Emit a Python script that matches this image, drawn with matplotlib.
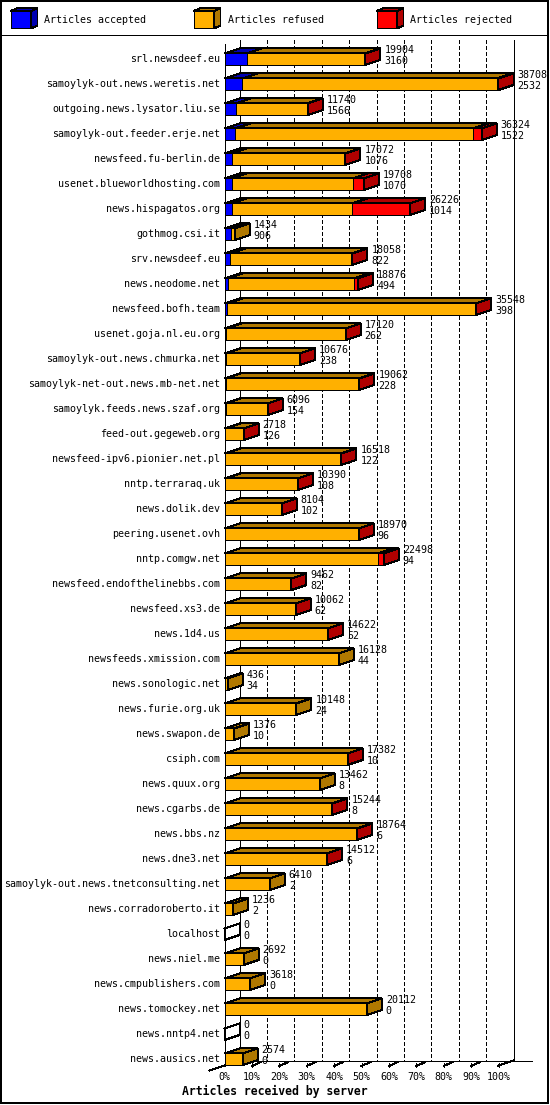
import matplotlib
matplotlib.use("Agg")
import matplotlib.pyplot as plt
from matplotlib.patches import Polygon, Rectangle
from matplotlib.transforms import blended_transform_factory

# ---- data: articles received by server ----
servers = [
    "srl.newsdeef.eu", "samoylyk-out.news.weretis.net", "outgoing.news.lysator.liu.se",
    "samoylyk-out.feeder.erje.net", "newsfeed.fu-berlin.de", "usenet.blueworldhosting.com",
    "news.hispagatos.org", "gothmog.csi.it", "srv.newsdeef.eu", "news.neodome.net",
    "newsfeed.bofh.team", "usenet.goja.nl.eu.org", "samoylyk-out.news.chmurka.net",
    "samoylyk-net-out.news.mb-net.net", "samoylyk.feeds.news.szaf.org", "feed-out.gegeweb.org",
    "newsfeed-ipv6.pionier.net.pl", "nntp.terraraq.uk", "news.dolik.dev", "peering.usenet.ovh",
    "nntp.comgw.net", "newsfeed.endofthelinebbs.com", "newsfeed.xs3.de", "news.1d4.us",
    "newsfeeds.xmission.com", "news.sonologic.net", "news.furie.org.uk", "news.swapon.de",
    "csiph.com", "news.quux.org", "news.cgarbs.de", "news.bbs.nz", "news.dne3.net",
    "samoylyk-out.news.tnetconsulting.net", "news.corradoroberto.it", "localhost",
    "news.niel.me", "news.cmpublishers.com", "news.tomockey.net", "news.nntp4.net",
    "news.ausics.net",
]
total = [19904, 38708, 11740, 36324, 17072, 19708, 26226, 1434, 18058, 18876,
         35548, 17120, 10676, 19062, 6096, 2718, 16518, 10390, 8104, 18970,
         22498, 9462, 10062, 14622, 16128, 436, 10148, 1376, 17382, 13462,
         15244, 18764, 14512, 6410, 1236, 0, 2692, 3618, 20112, 0, 2574]
accepted = [3160, 2532, 1566, 1522, 1076, 1070, 1014, 906, 822, 494,
            398, 262, 238, 228, 154, 126, 122, 108, 102, 96,
            94, 82, 62, 52, 44, 34, 24, 10, 10, 8,
            8, 6, 6, 2, 2, 0, 0, 0, 0, 0, 0]
# estimated from the red segment widths
rejected = [40, 250, 80, 1180, 40, 1580, 8170, 0, 40, 610,
            30, 40, 20, 20, 10, 10, 20, 10, 10, 20,
            840, 10, 10, 20, 0, 0, 0, 0, 10, 0,
            10, 10, 10, 0, 0, 0, 0, 0, 0, 0, 0]
refused = [t - a - r for t, a, r in zip(total, accepted, rejected)]

legend_labels = ["Articles accepted", "Articles refused", "Articles rejected"]
colors = ["#0000ff", "#ffb000", "#ff0000"]
dark_colors = ["#0000b0", "#b07800", "#b00000"]
pct_ticks = list(range(0, 101, 10))

plt.rcParams['font.family'] = ['DejaVu Sans Mono']
plt.rcParams['patch.antialiased'] = False
plt.rcParams['lines.antialiased'] = False

W, H = 550, 1105
fig = plt.figure(figsize=(W / 100, H / 100), dpi=100)
fig.patch.set_facecolor('white')

# pixel overlay for frame / legend
bg = fig.add_axes([0, 0, 1, 1])
bg.set_xlim(0, W)
bg.set_ylim(H, 0)
bg.axis('off')

n = len(servers)
vmax = max(total)
x0_px, x1_px = 224.5, 498.5
row0_px, row_px = 59.2, 25.0
top_px = row0_px - row_px
bot_px = row0_px + n * row_px
ax = fig.add_axes([x0_px / W, 1 - bot_px / H, (x1_px - x0_px) / W, (bot_px - top_px) / H])
ax.set_xlim(0, vmax)
ax.set_ylim(n, -1)
ax.axis('off')

upx = vmax / (x1_px - x0_px)      # articles per pixel
DX = 15 * upx                       # depth in x
DY = 5 / row_px                     # depth in y (rows)
HALF = 5.8 / row_px                 # half bar height
LW = 0.72
FS = 7.2
bt = blended_transform_factory(ax.transData, bg.transData)

# ---- back wall and grid ----
y_wall_top, y_floor = 40, 1060.5
for p in pct_ticks:
    x = p / 100 * vmax + DX
    if p in (0, 100):
        ax.plot([x, x], [y_wall_top, y_floor], color='k', lw=LW, transform=bt, clip_on=False)
    else:
        ax.plot([x, x], [y_wall_top, y_floor], color='k', lw=LW, transform=bt,
                clip_on=False, linestyle=(0, (3.6, 2.9)))
ax.plot([0, 0], [44, 1065.5], color='k', lw=LW, transform=bt, clip_on=False)

# floor
ax.plot([DX, vmax + DX + 18 * upx], [y_floor, y_floor], color='k', lw=LW, transform=bt, clip_on=False)
ax.plot([-DX, DX], [1070.5, y_floor], color='k', lw=LW, transform=bt, clip_on=False)
ax.plot([vmax, vmax + DX], [1065.5, y_floor], color='k', lw=LW, transform=bt, clip_on=False)
for p in pct_ticks[1:]:
    x = p / 100 * vmax
    ax.plot([x, x], [1063, 1067], color='k', lw=LW, transform=bt, clip_on=False)
    ax.plot([x, x + 9 * upx], [1066, 1062], color='k', lw=LW, transform=bt, clip_on=False)
    ax.text(x, 1077.5, f"{p}%", transform=bt, ha='center', va='center', fontsize=FS)
ax.text(0, 1077.5, "0%", transform=bt, ha='center', va='center', fontsize=FS)

# ---- 3D bars ----
for i in range(n):
    yt, yb = i - HALF, i + HALF
    start = 0
    last_dark = None
    for val, c, dc in zip([accepted[i], refused[i], rejected[i]], colors, dark_colors):
        if val <= 0:
            continue
        ax.add_patch(Rectangle((start, yt), val, yb - yt, fc=c, ec='k', lw=LW, clip_on=False, zorder=3))
        ax.add_patch(Polygon([(start, yt), (start + val, yt), (start + val + DX, yt - DY),
                              (start + DX, yt - DY)], closed=True, fc=dc, ec='k', lw=LW,
                             clip_on=False, zorder=3))
        start += val
        last_dark = dc
    end = total[i]
    ax.add_patch(Polygon([(end, yt), (end + DX, yt - DY), (end + DX, yb - DY), (end, yb)],
                         closed=True, fc=last_dark if last_dark else 'none', ec='k', lw=LW,
                         clip_on=False, zorder=3))
    if total[i] == 0:
        ax.plot([0, DX], [yt, yt - DY], color='k', lw=LW, clip_on=False, zorder=3)
    xl = end + DX + 4 * upx
    ax.text(xl, i - 9 / row_px, str(total[i]), ha='left', va='center', fontsize=FS, zorder=4)
    ax.text(xl, i + 1.7 / row_px, str(accepted[i]), ha='left', va='center', fontsize=FS, zorder=4)
    ax.text(-4.5 * upx, i, servers[i], ha='right', va='center', fontsize=FS, zorder=4)

ax.text(0.5, 1091.5, "Articles received by server", transform=blended_transform_factory(fig.transFigure, bg.transData),
        ha='center', va='center', fontsize=8.3, fontweight='bold')

# ---- legend ----
for k, (lab, c, dc) in enumerate(zip(legend_labels, colors, dark_colors)):
    bx = 10.5 + 183 * k
    bw, by, bh, ddx, ddy = 20.5, 11, 17.3, 6.5, 2.7
    bg.add_patch(Rectangle((bx, by), bw, bh, fc=c, ec='k', lw=LW))
    bg.add_patch(Polygon([(bx, by), (bx + bw, by), (bx + bw + ddx, by - ddy), (bx + ddx, by - ddy)],
                         closed=True, fc=dc, ec='k', lw=LW))
    bg.add_patch(Polygon([(bx + bw, by), (bx + bw + ddx, by - ddy), (bx + bw + ddx, by + bh - ddy),
                          (bx + bw, by + bh)], closed=True, fc=dc, ec='k', lw=LW))
    bg.text(bx + 34, 20, lab, ha='left', va='center', fontsize=FS)

bg.plot([1, 548], [35, 35], color='k', lw=LW)
bg.add_patch(Rectangle((1, 1), 547, 1102, fc='none', ec='k', lw=1.1))

fig.savefig("out.png", dpi=100)
